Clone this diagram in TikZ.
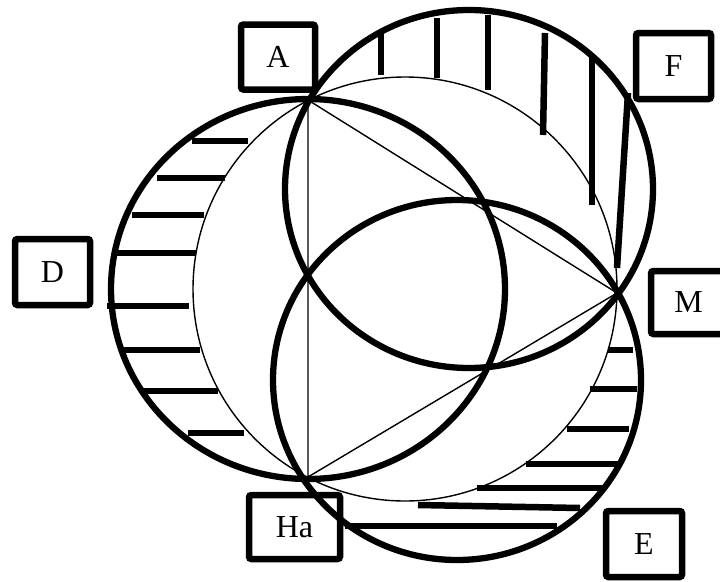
\documentclass[tikz,border=0pt]{standalone}
\usepackage{fontspec}
\setmainfont{Liberation Serif}
\begin{document}
\begin{tikzpicture}[x=1pt,y=-1pt,
  thickc/.style={line width=6.3pt},
  thinc/.style={line width=1.4pt},
  hatch/.style={line width=6.5pt},
  lbl/.style={draw,line width=6.5pt,rounded corners=2.5pt,inner sep=0pt,font=\fontsize{32}{32}\selectfont}]
\useasboundingbox (0,0) rectangle (720,581);
% thin circumcircle and triangle
\coordinate (vA) at (308,100);
\coordinate (vH) at (308,477);
\coordinate (vM) at (617,293);
\draw[thinc] (405,289) circle[radius=212];
\draw[thinc] (vA) -- (vH) -- (vM) -- cycle;
% thick circles
\draw[thickc] (308,289) ellipse[x radius=197,y radius=190];
\draw[thickc] (469,189) ellipse[x radius=184,y radius=179];
\draw[thickc] (457,380) ellipse[x radius=184,y radius=180];
% hatch left (D)
\foreach \y/\a/\b in {141/192/248,178/157/225,215/132/204,253/117/196,306/107/189,350/123/200,391/143/218,433/188/244}
  \draw[hatch] (\a,\y) -- (\b,\y);
% hatch top (F)
\foreach \x/\a/\b in {381/33/75,437/18/78,488/15/90,592/55/205}
  \draw[hatch] (\x,\a) -- (\x,\b);
\draw[hatch] (545,33) -- (543,135);
\draw[hatch] (628,93) -- (617,268);
% hatch bottom right (E)
\foreach \y/\a/\b in {350/608/633,389/590/637,429/567/629,464/526/618,488/477/602,526/345/557}
  \draw[hatch] (\a,\y) -- (\b,\y);
\draw[hatch] (418,505) -- (580,508);
% labels
\node[lbl,minimum width=74pt,minimum height=65pt] (A) at (278,57) {A};
\node[lbl,minimum width=75pt,minimum height=66pt] (F) at (673.5,66) {F};
\node[lbl,minimum width=75pt,minimum height=66pt] (D) at (52.5,272) {D};
\node[lbl,minimum width=75pt,minimum height=63pt] (M) at (688.5,302.5) {M};
\node[lbl,minimum width=76pt,minimum height=66pt] (E) at (644,544) {E};
\node[lbl,minimum width=91pt,minimum height=64pt] (Ha) at (294.5,527) {Ha};
\end{tikzpicture}
\end{document}
